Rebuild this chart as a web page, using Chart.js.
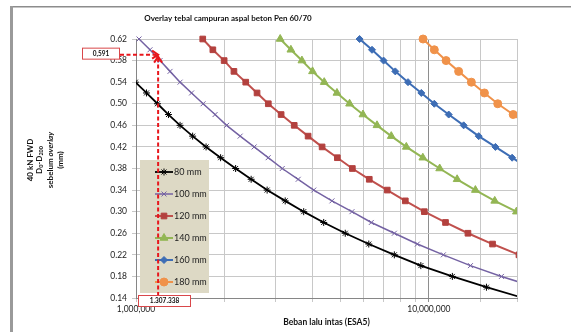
<!DOCTYPE html>
<html>
<head>
<meta charset="utf-8">
<script src="https://cdn.jsdelivr.net/npm/chart.js@4.4.1/dist/chart.umd.min.js"></script>
<style>
  html, body { margin: 0; padding: 0; background: #fff; }
  #wrap { position: relative; width: 571px; height: 332px; }
</style>
</head>
<body>
<div id="wrap"><canvas id="overlay-chart" width="571" height="332"></canvas></div>
<script>
// overlay thickness per curve
const thicknessLabels = ['80 mm', '100 mm', '120 mm', '140 mm', '160 mm', '180 mm'];

// D0-D200 before overlay (mm) and matching traffic load (ESA5)
const defl80  = [0.56, 0.54, 0.52, 0.50, 0.48, 0.46, 0.44, 0.42, 0.40, 0.38, 0.36, 0.34, 0.32, 0.30, 0.28, 0.26, 0.24, 0.22, 0.20, 0.18, 0.16, 0.14];
const esa80   = [912000, 995000, 1086000, 1184000, 1291000, 1414000, 1561000, 1735000, 1945000, 2189000, 2473000, 2804000, 3232000, 3738000, 4375000, 5183000, 6236000, 7624000, 9390000, 12030000, 15730000, 21000000];

const defl100 = [0.62, 0.60, 0.58, 0.56, 0.54, 0.52, 0.50, 0.48, 0.46, 0.44, 0.42, 0.40, 0.38, 0.36, 0.34, 0.32, 0.30, 0.28, 0.26, 0.24, 0.22, 0.20, 0.18, 0.16];
const esa100  = [1024000, 1116000, 1208000, 1307000, 1414000, 1548000, 1695000, 1862000, 2039000, 2268000, 2532000, 2827000, 3158000, 3580000, 4045000, 4668000, 5463000, 6362000, 7624000, 9135000, 11210000, 13870000, 17700000, 23130000];

const defl120 = [0.62, 0.60, 0.58, 0.56, 0.54, 0.52, 0.50, 0.48, 0.46, 0.44, 0.42, 0.40, 0.38, 0.36, 0.34, 0.32, 0.30, 0.28, 0.26, 0.24, 0.22];
const esa120  = [1690000, 1830000, 2000000, 2160000, 2370000, 2590000, 2830000, 3130000, 3470000, 3870000, 4320000, 4870000, 5480000, 6260000, 7210000, 8310000, 9650000, 11400000, 13600000, 16500000, 20310000];

const defl140 = [0.62, 0.60, 0.58, 0.56, 0.54, 0.52, 0.50, 0.48, 0.46, 0.44, 0.42, 0.40, 0.38, 0.36, 0.34, 0.32, 0.30];
const esa140  = [3107000, 3380000, 3686000, 4007000, 4393000, 4855000, 5362000, 5957000, 6652000, 7442000, 8377000, 9539000, 10890000, 12490000, 14420000, 16790000, 19910000];

const defl160 = [0.62, 0.60, 0.58, 0.56, 0.54, 0.52, 0.50, 0.48, 0.46, 0.44, 0.42, 0.40, 0.38];
const esa160  = [5800000, 6397000, 7006000, 7682000, 8490000, 9427000, 10440000, 11690000, 13150000, 14800000, 16880000, 19250000, 22060000];

const defl180 = [0.62, 0.60, 0.58, 0.56, 0.54, 0.52, 0.50, 0.48, 0.46];
const esa180  = [9555000, 10440000, 11450000, 12640000, 13970000, 15480000, 17190000, 19410000, 21890000];

// y axis ticks
const yTicks = [0.14, 0.18, 0.22, 0.26, 0.30, 0.34, 0.38, 0.42, 0.46, 0.50, 0.54, 0.58, 0.62];
// x axis labelled ticks
const xLabelled = [1000000, 10000000];

// red guide drawn on the figure
const guideX = 1190000;
const guideY = 0.591;
const guideXText = '1.307.338';
const guideYText = '0,591';

const FONT = 'Lato, "Open Sans", "DejaVu Sans", sans-serif';
Chart.defaults.font.family = FONT;

function pts(xs, ys) {
    return xs.map((x, i) => ({ x: x, y: ys[i] }));
}

function series(label, xs, ys, color, style, radius, fill, width) {
    return {
        label: label,
        data: pts(xs, ys),
        showLine: true,
        borderColor: color,
        backgroundColor: fill,
        borderWidth: width,
        pointStyle: style,
        pointRadius: radius,
        pointBorderColor: style === 'star' || style === 'crossRot' ? color : fill,
        pointBackgroundColor: fill,
        pointBorderWidth: 1,
        clip: { left: 0, right: 0, top: 8, bottom: 0 }
    };
}

const datasets = [
    series(thicknessLabels[0], esa80, defl80, '#000000', 'star', 3.5, '#000000', 1.8),
    series(thicknessLabels[1], esa100, defl100, '#7462a3', 'crossRot', 3.5, '#7462a3', 1.5),
    series(thicknessLabels[2], esa120, defl120, '#c0504d', 'rect', 4, '#b3413e', 2),
    series(thicknessLabels[3], esa140, defl140, '#93b654', 'triangle', 4.5, '#93b654', 2),
    series(thicknessLabels[4], esa160, defl160, '#3d6db5', 'rectRot', 3.5, '#3d6db5', 2),
    series(thicknessLabels[5], esa180, defl180, '#f0924a', 'circle', 4, '#f0924a', 2)
];

// draws a line of text made of runs, centred on (cx, cy)
function drawRuns(ctx, runs, cx, cy) {
    let total = 0;
    runs.forEach(r => { ctx.font = r.font; total += ctx.measureText(r.text).width; });
    let x = cx - total / 2;
    runs.forEach(r => {
        ctx.font = r.font;
        ctx.fillText(r.text, x, cy + (r.dy || 0));
        x += ctx.measureText(r.text).width;
    });
}

const decorations = {
    id: 'decorations',
    beforeDraw(chart) {
        const ctx = chart.ctx;
        ctx.save();
        ctx.fillStyle = '#ffffff';
        ctx.fillRect(0, 0, chart.width, chart.height);
        // outer frame of the pasted figure
        ctx.fillStyle = '#8c8c8c';
        ctx.fillRect(10, 6, chart.width - 10, 1.5);
        ctx.fillStyle = '#9a9a9a';
        ctx.fillRect(10, 6, 3, chart.height - 6);
        ctx.restore();
    },
    afterDatasetsDraw(chart) {
        const ctx = chart.ctx;
        const a = chart.chartArea;
        ctx.save();

        // title
        ctx.fillStyle = '#111';
        ctx.textBaseline = 'middle';
        ctx.textAlign = 'left';
        drawRuns(ctx, [{ text: 'Overlay tebal campuran aspal beton Pen 60/70', font: 'bold 8px ' + FONT }], 228, 18);

        // y axis title, rotated
        ctx.save();
        ctx.translate(0, 160);
        ctx.rotate(-Math.PI / 2);
        const b = 'bold 8px ' + FONT, s = 'bold 5.5px ' + FONT, bi = 'italic bold 8px ' + FONT;
        drawRuns(ctx, [{ text: '40 kN FWD', font: b }], 0, 30);
        drawRuns(ctx, [{ text: 'D', font: b }, { text: '0', font: s, dy: 2 }, { text: '-D', font: b }, { text: '200', font: s, dy: 2 }], 0, 39.5);
        drawRuns(ctx, [{ text: 'sebelum ', font: b }, { text: 'overlay', font: bi }], 0, 50);
        drawRuns(ctx, [{ text: '(mm)', font: b }], 0, 60);
        ctx.restore();

        // legend box
        const lx = a.left + 4, ly = a.top + 121;
        ctx.fillStyle = '#ddd9c5';
        ctx.fillRect(lx, ly, 69, 133);
        chart.data.datasets.forEach((ds, i) => {
            const y = a.top + 133 + i * 22;
            ctx.strokeStyle = ds.borderColor;
            ctx.lineWidth = ds.borderWidth;
            ctx.beginPath();
            ctx.moveTo(lx + 15, y);
            ctx.lineTo(lx + 33, y);
            ctx.stroke();
            ctx.fillStyle = ds.pointBackgroundColor;
            ctx.strokeStyle = ds.pointBorderColor;
            ctx.lineWidth = 1;
            Chart.helpers.drawPoint(ctx, { pointStyle: ds.pointStyle, radius: ds.pointRadius, rotation: 0, borderWidth: 1 }, lx + 24, y);
            ctx.fillStyle = '#222';
            ctx.font = '9px ' + FONT;
            ctx.textAlign = 'left';
            ctx.textBaseline = 'middle';
            ctx.fillText(ds.label, lx + 34, y + 0.5);
        });

        // red guide
        const px = chart.scales.x.getPixelForValue(guideX);
        const py = chart.scales.y.getPixelForValue(guideY);
        ctx.strokeStyle = '#e8161c';
        ctx.lineWidth = 2;
        ctx.setLineDash([4, 2.5]);
        ctx.beginPath();
        ctx.moveTo(a.left - 16, py);
        ctx.lineTo(px - 2, py);
        ctx.stroke();
        ctx.beginPath();
        ctx.moveTo(px, a.bottom - 2);
        ctx.lineTo(px, py + 3);
        ctx.stroke();
        ctx.setLineDash([]);
        ctx.beginPath();
        ctx.moveTo(px - 6, py - 4); ctx.lineTo(px, py); ctx.lineTo(px - 6, py + 4);
        ctx.stroke();
        ctx.beginPath();
        ctx.moveTo(px - 4, py + 8); ctx.lineTo(px, py + 2); ctx.lineTo(px + 4, py + 8);
        ctx.stroke();

        // value boxes
        ctx.lineWidth = 1;
        ctx.strokeStyle = '#d9474a';
        ctx.fillStyle = '#fff';
        const bx = a.left - 53.5, by = py - 6.5;
        ctx.fillRect(bx, by, 37, 11);
        ctx.strokeRect(bx, by, 37, 11);
        const cx2 = a.left + 2.5, cy2 = a.bottom - 2.5;
        ctx.fillRect(cx2, cy2, 52, 11);
        ctx.strokeRect(cx2, cy2, 52, 11);
        ctx.fillStyle = '#111';
        ctx.textAlign = 'center';
        ctx.textBaseline = 'middle';
        ctx.font = 'bold 6.5px ' + FONT;
        ctx.fillText(guideYText, bx + 18.5, by + 5.5);
        ctx.fillText(guideXText, cx2 + 26, cy2 + 5.5);

        ctx.restore();
    }
};

new Chart(document.getElementById('overlay-chart'), {
    type: 'scatter',
    data: { datasets: datasets },
    plugins: [decorations],
    options: {
        responsive: false,
        animation: false,
        layout: { padding: { left: 0, right: 54, top: 39, bottom: 0 } },
        plugins: {
            legend: { display: false },
            title: { display: false },
            tooltip: { enabled: false }
        },
        scales: {
            x: {
                type: 'logarithmic',
                min: 1000000,
                max: 20000000,
                afterFit: s => { s.height = 34; },
                border: { color: '#868686', width: 1 },
                grid: {
                    color: c => (c.tick && Math.abs(c.tick.value - 10000000) < 1) ? '#8e8e8e' : '#c8c8c8',
                    tickLength: 4
                },
                ticks: {
                    autoSkip: false,
                    maxRotation: 0,
                    padding: 2,
                    color: '#222',
                    font: { size: 8.5 },
                    callback: v => xLabelled.some(t => Math.abs(t - v) < 1) ? Number(v).toLocaleString('en-US') : ''
                },
                title: {
                    display: true,
                    text: 'Beban lalu intas (ESA5)',
                    color: '#111',
                    font: { size: 8.5, weight: 'bold' },
                    padding: { top: 0, bottom: 5 }
                }
            },
            y: {
                min: yTicks[0],
                max: yTicks[yTicks.length - 1],
                afterFit: s => { s.width = 136; },
                afterBuildTicks: s => { s.ticks = yTicks.map(v => ({ value: v })); },
                border: { color: '#868686', width: 1 },
                grid: { color: '#c8c8c8', tickLength: 4 },
                ticks: {
                    padding: 5,
                    color: '#222',
                    font: { size: 8.5 },
                    callback: v => Number(v).toFixed(2)
                }
            }
        }
    }
});
</script>
</body>
</html>
